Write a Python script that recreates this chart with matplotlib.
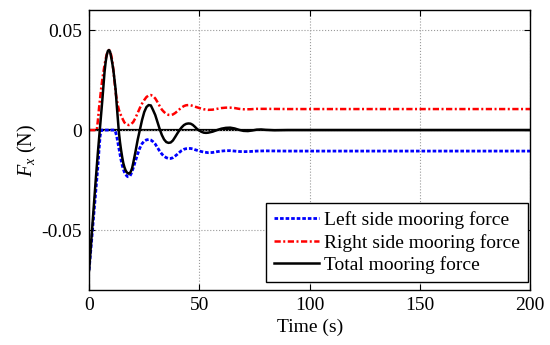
import matplotlib
matplotlib.use("Agg")
import matplotlib.pyplot as plt

plt.rcParams['font.family'] = ['Liberation Serif', 'DejaVu Serif']
plt.rcParams['mathtext.fontset'] = 'custom'
plt.rcParams['mathtext.rm'] = 'Liberation Serif'
plt.rcParams['mathtext.it'] = 'Liberation Serif:italic'

# total mooring force
t_total = [0, 1, 2, 3, 4, 5, 6, 7, 7.5, 8, 8.5, 9, 9.5, 10, 10.5, 11, 12, 12.5, 13, 13.5,
           14, 14.5, 15, 15.5, 16, 16.5, 17, 17.5, 18, 18.5, 19, 19.5, 20, 21, 22, 23,
           24, 25, 26, 27, 28, 29, 30, 31, 32, 33, 34, 35, 36, 37, 38, 39, 40, 41, 42,
           43, 44, 45, 46, 47, 48, 49, 50, 51, 52, 53, 54, 56, 58, 60, 62, 64, 66, 68,
           70, 72, 74, 76, 78, 80, 84, 90, 200]
f_total = [-0.070, -0.055, -0.040, -0.025, -0.011, 0.002, 0.015, 0.029, 0.034, 0.0375,
           0.0395, 0.0400, 0.0392, 0.0365, 0.0335, 0.030, 0.0205, 0.013, 0.006, -0.001,
           -0.006, -0.010, -0.0135, -0.0165, -0.0185, -0.020, -0.021, -0.0215, -0.0218,
           -0.0215, -0.0205, -0.019, -0.0165, -0.011, -0.005, 0.0, 0.005, 0.009, 0.0115,
           0.0125, 0.0123, 0.010, 0.0075, 0.004, 0.0005, -0.0025, -0.0047, -0.006, -0.0064,
           -0.0062, -0.0052, -0.0035, -0.0017, 0.0, 0.0014, 0.0025, 0.0031, 0.0033, 0.0032,
           0.0026, 0.0016, 0.0005, -0.0003, -0.0009, -0.0013, -0.0014, -0.0013, -0.0008,
           0.0, 0.0007, 0.0011, 0.0012, 0.0008, 0.0001, -0.0004, -0.0005, -0.0002, 0.0002,
           0.0003, 0.0001, -0.0001, 0.0, 0.0]

# left side mooring force
t_left = [0, 1, 2, 3, 4, 4.5, 5, 5.5, 11.5, 12, 12.5, 13, 13.5, 14, 14.5, 15, 15.5, 16,
          16.5, 17, 17.5, 18, 18.5, 19, 19.5, 20, 21, 22, 23, 24, 25, 26, 27, 28, 29, 30,
          31, 32, 33, 34, 35, 36, 37, 38, 39, 40, 41, 42, 43, 44, 45, 46, 47, 48, 50, 52,
          54, 56, 58, 60, 62, 64, 66, 68, 70, 73, 76, 80, 90, 200]
f_left = [-0.070, -0.057, -0.044, -0.031, -0.018, -0.010, -0.003, 0.0, 0.0, -0.001,
          -0.003, -0.006, -0.009, -0.012, -0.015, -0.0175, -0.0195, -0.021, -0.022,
          -0.0228, -0.0233, -0.0233, -0.023, -0.022, -0.0205, -0.019, -0.0155, -0.012,
          -0.009, -0.0068, -0.0055, -0.0049, -0.0047, -0.005, -0.0058, -0.007, -0.0088,
          -0.0105, -0.012, -0.0131, -0.0138, -0.0142, -0.0142, -0.0138, -0.013, -0.0121,
          -0.0111, -0.0102, -0.0096, -0.0093, -0.0092, -0.0092, -0.0094, -0.0098, -0.0105,
          -0.011, -0.0113, -0.0112, -0.0108, -0.0105, -0.0103, -0.0103, -0.0105, -0.0107,
          -0.0108, -0.0107, -0.0105, -0.0104, -0.0105, -0.0105]

# right side mooring force
t_right = [0, 3.5, 4, 4.5, 5, 5.5, 6, 6.5, 7, 7.5, 8, 8.5, 9, 9.5, 10, 10.5, 11, 11.5,
           12, 12.5, 13, 13.5, 14, 15, 16, 17, 18, 19, 20, 21, 22, 23, 24, 25, 26, 27,
           28, 29, 30, 31, 32, 33, 34, 35, 36, 37, 38, 39, 40, 41, 42, 43, 44, 45, 46,
           47, 48, 50, 52, 54, 56, 58, 60, 62, 64, 66, 68, 70, 73, 76, 80, 90, 200]
f_right = [0.0, 0.0, 0.005, 0.011, 0.016, 0.021, 0.0255, 0.029, 0.0325, 0.0355, 0.0378,
           0.0393, 0.040, 0.0395, 0.0375, 0.0345, 0.030, 0.0245, 0.019, 0.0155, 0.0125,
           0.0102, 0.0085, 0.006, 0.0038, 0.0028, 0.0025, 0.0029, 0.004, 0.006, 0.0085,
           0.011, 0.0132, 0.015, 0.0165, 0.0173, 0.0175, 0.017, 0.0158, 0.014, 0.012,
           0.0102, 0.009, 0.0081, 0.0076, 0.0075, 0.0078, 0.0085, 0.0094, 0.0104, 0.0113,
           0.012, 0.0124, 0.0125, 0.0124, 0.0121, 0.0117, 0.0110, 0.0104, 0.0101, 0.0102,
           0.0106, 0.011, 0.0112, 0.0112, 0.011, 0.0106, 0.0104, 0.0104, 0.0106, 0.0106,
           0.0105, 0.0105]

fig = plt.figure(figsize=(5.5, 3.45), dpi=100)
ax = fig.add_axes([0.162, 0.159, 0.802, 0.812])

ax.axhline(0, color='k', lw=1.6, zorder=1)
ax.plot(t_left, f_left, color='#0000ff', ls=(0, (1.3, 0.7)), lw=2.0,
        label='Left side mooring force')
ax.plot(t_right, f_right, color='#ff0000', ls=(0, (2.5, 1, 0.8, 1)), lw=1.8,
        label='Right side mooring force')
ax.plot(t_total, f_total, color='k', ls='-', lw=1.8, label='Total mooring force')

ax.set_xlim(0, 200)
ax.set_ylim(-0.08, 0.06)
ax.set_xticks([0, 50, 100, 150, 200])
ax.set_yticks([-0.05, 0, 0.05])
ax.set_yticklabels(['-0.05', '0', '0.05'])
ax.grid(True, ls=':', color='#9a9a9a', lw=0.8)
ax.tick_params(direction='in', top=True, right=True, labelsize=14, length=4, pad=5)
for s in ax.spines.values():
    s.set_linewidth(1.0)

ax.set_xlabel('Time (s)', fontsize=14, labelpad=3)
ax.set_ylabel('$F_x$ (N)', fontsize=14.5, labelpad=2)

leg = ax.legend(loc='lower right', bbox_to_anchor=(0.995, 0.029), borderaxespad=0,
                fontsize=14, handlelength=2.3, handletextpad=0.3,
                borderpad=0.4, labelspacing=0.25, fancybox=False, framealpha=1,
                edgecolor='k')
leg.get_frame().set_linewidth(1.0)

fig.savefig('out.png', dpi=100)
